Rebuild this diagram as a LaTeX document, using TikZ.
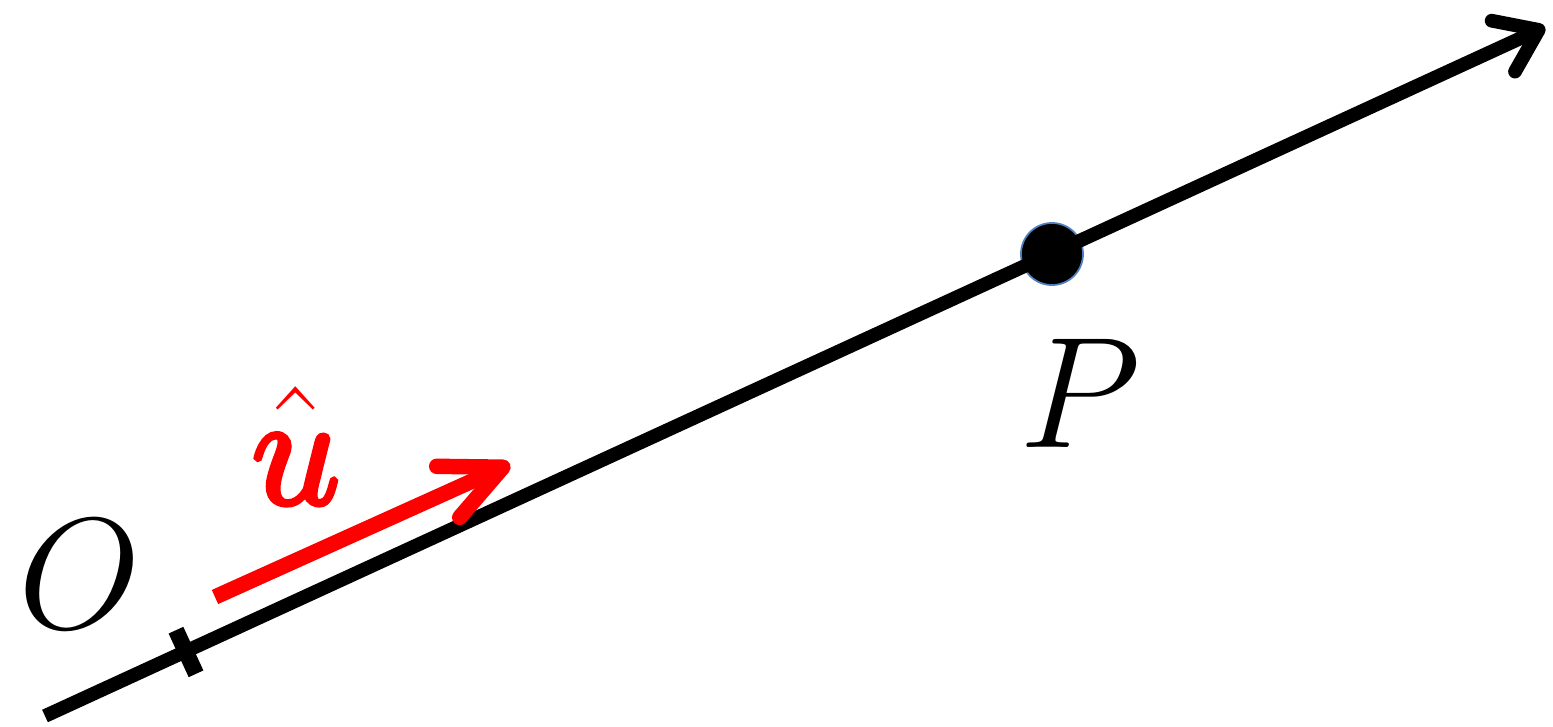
\RequirePackage{fix-cm}
\documentclass[tikz,border=0pt]{standalone}
\usepackage{amsmath,amssymb}
\usetikzlibrary{arrows.meta,calc}
\newcommand{\strokebold}[1]{\special{pdf:literal direct 2 Tr 1.5 w}#1\special{pdf:literal direct 0 Tr}}
\definecolor{ink}{HTML}{000000}
\definecolor{vecred}{HTML}{FF0000}
\definecolor{dotrim}{HTML}{4F7FC0}
\tikzset{
  axisline/.style={draw=ink,line width=3.9pt,
                   -{Straight Barb[length=3.9mm,width=5.6mm,round]}},
  unitvec/.style={draw=vecred,line width=4.4pt,
                  -{Straight Barb[length=6mm,width=5.6mm,round]}},
  tickline/.style={draw=ink,line width=4.6pt},
  pointdot/.style={circle,fill=ink,draw=dotrim,line width=0.5pt,
                   minimum size=0.62cm,inner sep=0pt},
  biglabel/.style={font=\fontsize{45}{50}\selectfont,inner sep=0pt}
}

\begin{document}
\begin{tikzpicture}[x=0.01cm,y=-0.01cm]
  \useasboundingbox (0,0) rectangle (1553,727);
  % line through O and P
  \coordinate (start) at (45,716);
  \coordinate (tip) at (1545,27);
  \coordinate (origin) at (186,652);
  \node[pointdot] (P) at (1052,254) {};
  \draw[axisline] (start) -- (tip);
  \draw[tickline] ($(origin)!0.24cm!90:(tip)$) -- ($(origin)!0.24cm!-90:(tip)$);
  % unit vector
  \coordinate (ubase) at (215,597);
  \coordinate (uhead) at (510,464);
  \draw[unitvec] (ubase) -- (uhead);
  % labels
  \node[biglabel] (Olabel) at (80,574) {$O$};
  \node[biglabel] (Plabel) at (1080,393) {$P$};
  \node[biglabel,text=vecred] (ulabel) at (296,445)
    {$\hat{\hbox{\strokebold{$u$}}\rule{0pt}{1.1ex}}$};
\end{tikzpicture}
\end{document}
